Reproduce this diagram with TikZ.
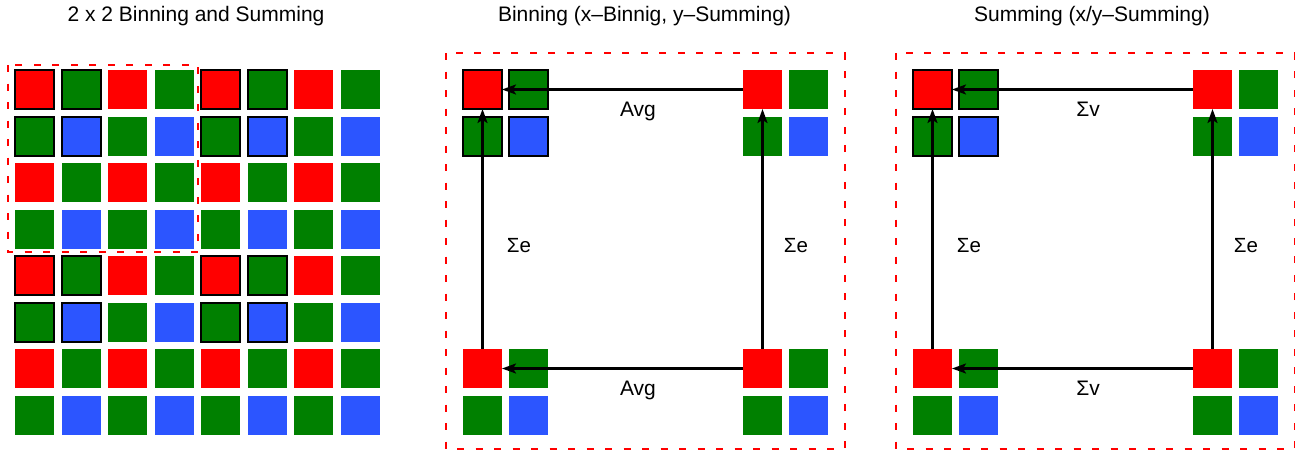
\documentclass[tikz,border=0pt]{standalone}
\usepackage{fontspec}
\setmainfont{Liberation Sans}
\usetikzlibrary{arrows.meta}
\definecolor{c0}{RGB}{255,0,0}
\definecolor{c1}{RGB}{0,128,0}
\definecolor{c2}{RGB}{44,85,255}
\tikzset{
 px/.style={minimum size=39pt, inner sep=0pt, outer sep=0pt, fill=#1},
 o0/.style={},
 o1/.style={draw=black, line width=2pt},
 dbox/.style={draw=c0, line width=2pt, dash pattern=on 7pt off 11.5pt},
 arr/.style={line width=2.2pt, -{Stealth[length=14pt,width=10pt,inset=3pt]}},
 ttl/.style={font=\fontsize{21}{25}\selectfont, anchor=base, inner sep=0pt},
 lbl/.style={font=\fontsize{21}{25}\selectfont, anchor=base, inner sep=0pt},
 slbl/.style={font=\fontsize{20.5}{24}\selectfont, anchor=base, inner sep=0pt},
}
\begin{document}
\begin{tikzpicture}[x=1pt,y=-1pt]
\useasboundingbox (0,0) rectangle (1295,453);
% titles
\node[ttl] (t1) at (196,21.7) {2 x 2 Binning and Summing};
\node[ttl] (t2) at (644.5,21.7) {Binning (x–Binnig, y–Summing)};
\node[ttl] (t3) at (1092,21.7) {Summing (x/y–Summing)};
% left grid
\foreach \r in {0,...,7} {
  \foreach \c in {0,...,7} {
    \pgfmathtruncatemacro{\k}{mod(\r,2)+mod(\c,2)}
    \pgfmathtruncatemacro{\o}{(mod(\r,4)<2)&&(mod(\c,4)<2)}
    \node[px=c\k, o\o] (L-\r-\c) at (34.5+46.57*\c, 89.5+46.57*\r) {};
  }
}
\draw[dbox] (8,65) rectangle (198,252);
% panels
\foreach \dx/\p/\h/\v in {0/M/Avg/Σe, 450/S/Σv/Σe} {
  \foreach \g/\gx/\gy/\o in {TL/482.5/89.5/1, TR/762.5/89.5/0, BL/482.5/368.5/0, BR/762.5/368.5/0} {
    \foreach \r in {0,1} {
      \foreach \c in {0,1} {
        \pgfmathtruncatemacro{\k}{\r+\c}
        \node[px=c\k, o\o] (\p\g-\r-\c) at (\gx+\dx+46.3*\c, \gy+46.7*\r) {};
      }
    }
  }
  \draw[arr] (\p TR-0-0.west) -- (\p TL-0-0.east);
  \draw[arr] (\p BR-0-0.west) -- (\p BL-0-0.east);
  \draw[arr] (\p BL-0-0.north) -- (\p TL-0-0.south);
  \draw[arr] (\p BR-0-0.north) -- (\p TR-0-0.south);
  \node[lbl] (\p h1) at (638+\dx,116) {\h};
  \node[lbl] (\p h2) at (638+\dx,395) {\h};
  \node[slbl] (\p v1) at (519+\dx,252) {\v};
  \node[slbl] (\p v2) at (796+\dx,252) {\v};
  \draw[dbox] (446+\dx,53) rectangle (844.5+\dx,449);
}
\end{tikzpicture}
\end{document}
